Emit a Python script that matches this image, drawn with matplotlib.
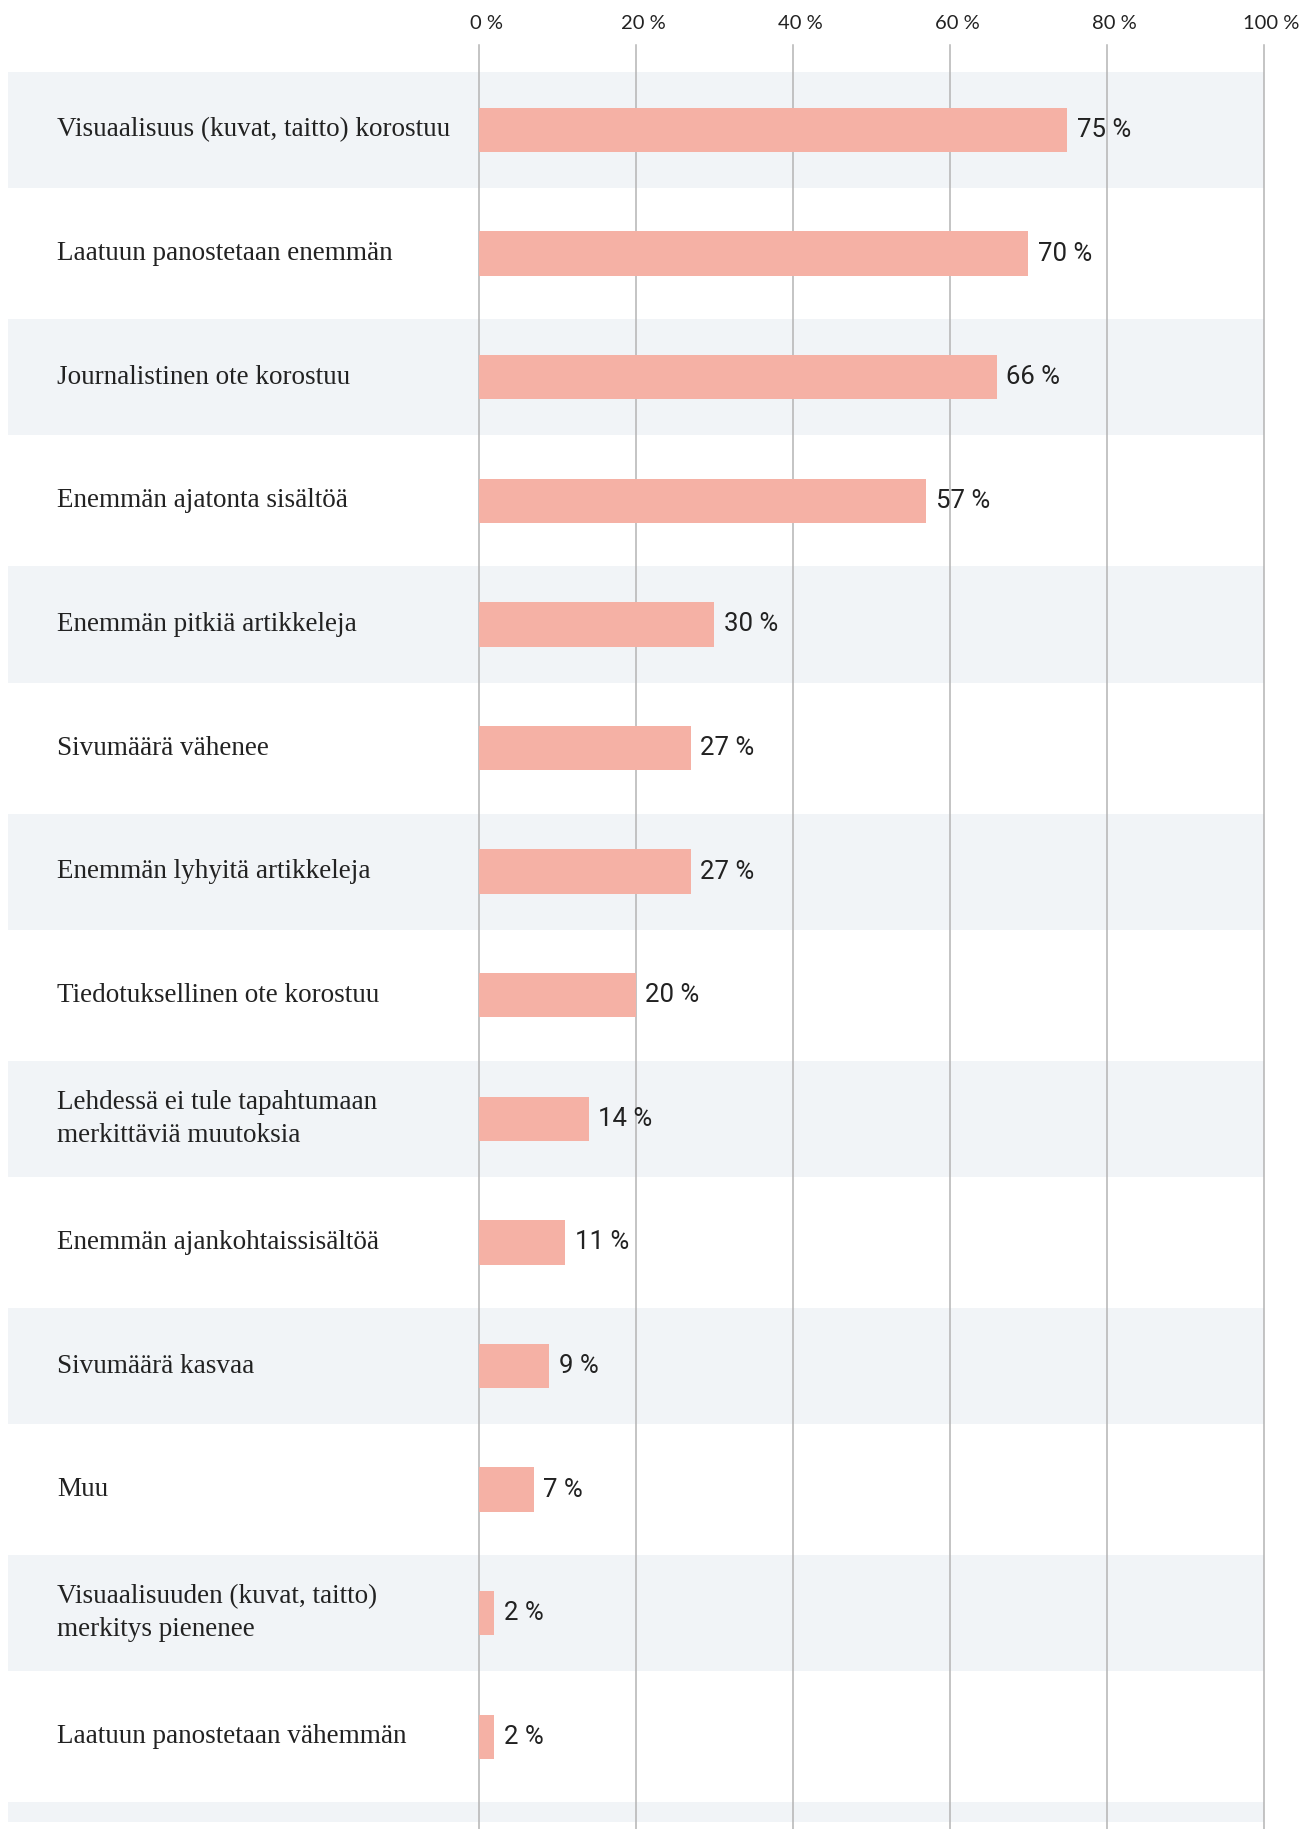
import matplotlib
matplotlib.use("Agg")
import matplotlib.pyplot as plt
from matplotlib.patches import Rectangle

# data
labels = [
    "Visuaalisuus (kuvat, taitto) korostuu",
    "Laatuun panostetaan enemmän",
    "Journalistinen ote korostuu",
    "Enemmän ajatonta sisältöä",
    "Enemmän pitkiä artikkeleja",
    "Sivumäärä vähenee",
    "Enemmän lyhyitä artikkeleja",
    "Tiedotuksellinen ote korostuu",
    "Lehdessä ei tule tapahtumaan\nmerkittäviä muutoksia",
    "Enemmän ajankohtaissisältöä",
    "Sivumäärä kasvaa",
    "Muu",
    "Visuaalisuuden (kuvat, taitto)\nmerkitys pienenee",
    "Laatuun panostetaan vähemmän",
]
values = [75, 70, 66, 57, 30, 27, 27, 20, 14, 11, 9, 7, 2, 2]
ticks = [0, 20, 40, 60, 80, 100]
tick_labels = ["0 %", "20 %", "40 %", "60 %", "80 %", "100 %"]

bar_color = "#f5b1a5"
band_color = "#f1f4f7"
grid_color = "#b4b4b4"
text_color = "#222222"

fig = plt.figure(figsize=(12.99, 18.29), dpi=100)
ax = fig.add_axes([0, 0, 1, 1])
ax.set_xlim(-61.0, 104.5)
ax.set_ylim(13.746, -1.052)
ax.axis("off")

# alternating bands (one extra row at the bottom, cut off)
n_rows = len(labels) + 1
for i in range(0, n_rows, 2):
    h = min(0.94, 13.69 - (i - 0.47))
    ax.add_patch(Rectangle((-60, i - 0.47), 160, h, color=band_color, lw=0, zorder=0))

# grid lines
for t, tl in zip(ticks, tick_labels):
    ax.plot([t, t], [-0.69, 14], color=grid_color, lw=1.1, zorder=1)
    ax.text(t + 1.0, -0.86, tl, ha="center", va="center",
            fontsize=14.5, family="Lato", color=text_color)

# bars
y = list(range(len(labels)))
ax.barh(y, values, height=0.36, color=bar_color, zorder=2)

for i, (lab, v) in enumerate(zip(labels, values)):
    ax.text(-53.7, i, lab, ha="left", va="center", fontsize=19.5,
            family="Liberation Serif", color=text_color, linespacing=1.4)
    ax.text(v + 1.2, i, f"{v} %", ha="left", va="center", fontsize=18.5,
            family="Roboto", color=text_color, zorder=3)

fig.savefig("out.png", dpi=100)
